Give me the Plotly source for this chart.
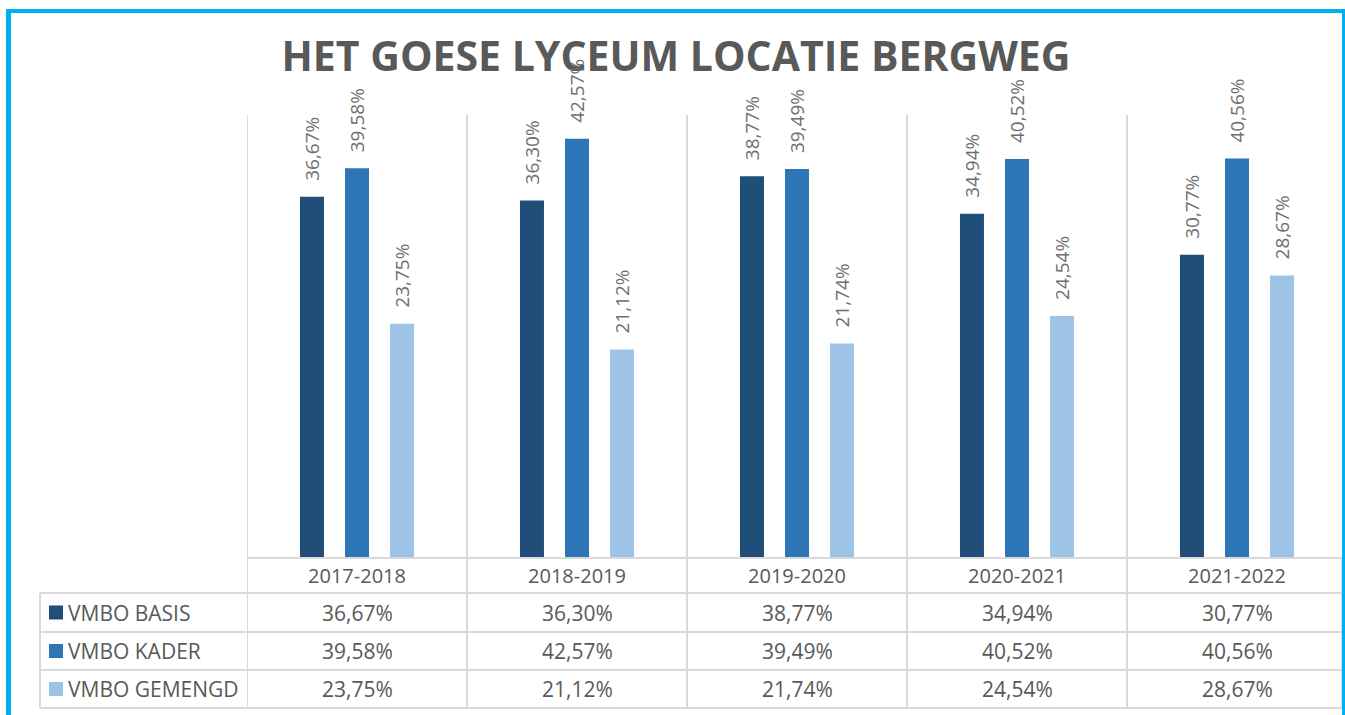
import plotly.graph_objects as go

# ---- data ----
categories = ["2017-2018", "2018-2019", "2019-2020", "2020-2021", "2021-2022"]
series_names = ["VMBO BASIS", "VMBO KADER", "VMBO GEMENGD"]
vmbo_basis = [36.67, 36.30, 38.77, 34.94, 30.77]
vmbo_kader = [39.58, 42.57, 39.49, 40.52, 40.56]
vmbo_gemengd = [23.75, 21.12, 21.74, 24.54, 28.67]
title_text = "HET GOESE LYCEUM LOCATIE BERGWEG"

series_values = [vmbo_basis, vmbo_kader, vmbo_gemengd]
colors = ["#1F4E79", "#2E75B6", "#9DC3E6"]

W, H = 1345, 715
def xp(px):
    return px / W
def yp(px):
    return 1 - px / H

FONT = "Open Sans"
GRID = "#D9D9D9"
TXT = "#595959"

def fmt(v):
    return f"{v:.2f}".replace(".", ",") + "%"

fig = go.Figure()
for name, vals, col in zip(series_names, series_values, colors):
    fig.add_trace(go.Bar(x=categories, y=vals, name=name, marker_color=col,
                         marker_line_width=0, showlegend=False, hoverinfo="skip"))

annotations = []
shapes = []

# data labels above bars (rotated)
offsets = [-45, 0, 45]
for vals, off in zip(series_values, offsets):
    for c, v in zip(categories, vals):
        annotations.append(dict(x=c, y=v, xref="x", yref="y", text=fmt(v),
                                textangle=-90, showarrow=False, xanchor="center",
                                yanchor="bottom", xshift=off, yshift=14,
                                font=dict(family=FONT, size=19, color="#6E6E6E")))

# table rows
row_tops = [593, 632, 670, 708]
for i, (name, vals, col) in enumerate(zip(series_names, series_values, colors)):
    cy = (row_tops[i] + row_tops[i + 1]) / 2
    for c, v in zip(categories, vals):
        annotations.append(dict(x=c, y=yp(cy), xref="x", yref="paper", text=fmt(v),
                                showarrow=False, xanchor="center", yanchor="middle",
                                font=dict(family=FONT, size=21, color=TXT)))
    annotations.append(dict(x=xp(66), y=yp(cy), xref="paper", yref="paper", text=name,
                            showarrow=False, xanchor="left", yanchor="middle",
                            font=dict(family=FONT, size=21, color=TXT)))
    shapes.append(dict(type="rect", xref="paper", yref="paper",
                       x0=xp(49), x1=xp(63), y0=yp(cy + 7), y1=yp(cy - 7),
                       fillcolor=col, line=dict(width=0)))

# vertical grid / table lines at category boundaries
for k in range(len(categories)):
    shapes.append(dict(type="line", xref="x", yref="paper", x0=k - 0.5, x1=k - 0.5,
                       y0=yp(708), y1=yp(115), line=dict(color=GRID, width=2)))
# right edge of the table
shapes.append(dict(type="line", xref="paper", yref="paper", x0=xp(1342), x1=xp(1342),
                   y0=yp(708), y1=yp(557), line=dict(color=GRID, width=2)))
# horizontal table lines
for r in row_tops:
    shapes.append(dict(type="line", xref="paper", yref="paper", x0=xp(40), x1=xp(1343),
                       y0=yp(r), y1=yp(r), line=dict(color=GRID, width=2)))
shapes.append(dict(type="line", xref="paper", yref="paper", x0=xp(40), x1=xp(40),
                   y0=yp(593), y1=yp(708), line=dict(color=GRID, width=2)))

# blue frame
BLUE = "#00B0F0"
shapes.append(dict(type="line", xref="paper", yref="paper", x0=xp(8.5), x1=xp(8.5),
                   y0=yp(9), y1=0, line=dict(color=BLUE, width=5)))
shapes.append(dict(type="line", xref="paper", yref="paper", x0=xp(6), x1=1,
                   y0=yp(11), y1=yp(11), line=dict(color=BLUE, width=4)))
shapes.append(dict(type="line", xref="paper", yref="paper", x0=xp(1343.5), x1=xp(1343.5),
                   y0=yp(9), y1=0, line=dict(color=BLUE, width=3)))

fig.update_layout(
    width=W, height=H,
    margin=dict(l=0, r=0, t=0, b=0),
    paper_bgcolor="white", plot_bgcolor="white",
    barmode="group", bargap=0.386, bargroupgap=0.467,
    hovermode=False,
    title=dict(text=title_text, x=xp(676), xanchor="center", y=yp(57), yanchor="middle",
               font=dict(family=FONT, size=41, color=TXT, weight="bold")),
    xaxis=dict(domain=[xp(247), 1], range=[-0.5, 4.5 - 2 / 220], showgrid=False,
               showline=True, linecolor=GRID, linewidth=2, ticks="", ticklabelstandoff=0,
               tickfont=dict(family=FONT, size=20, color=TXT)),
    yaxis=dict(domain=[yp(557), yp(115)], range=[0, 45], showgrid=False,
               showticklabels=False, zeroline=False, showline=False),
    annotations=annotations,
    shapes=shapes,
)

fig.write_html("out.html", config={"displayModeBar": False},
               post_script="document.body.style.margin='0px';document.body.style.overflow='hidden';")
